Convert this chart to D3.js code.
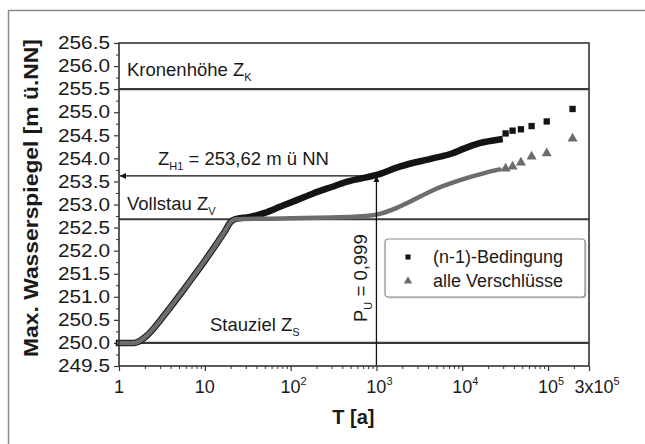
<!DOCTYPE html>
<html>
<head>
<meta charset="utf-8">
<script src="https://cdn.jsdelivr.net/npm/d3@7/dist/d3.min.js"></script>
<style>
body { margin: 0; background: #fff; }
text { font-family: "Liberation Sans", Arial, sans-serif; fill: #1a1a1a; }
</style>
</head>
<body>
<div id="chart"></div>
<script>
// axis ticks and labels
var yTicks = [249.5, 250.0, 250.5, 251.0, 251.5, 252.0, 252.5, 253.0, 253.5, 254.0, 254.5, 255.0, 255.5, 256.0, 256.5];
var xMajor = [1, 10, 100, 1000, 10000, 100000, 300000];
var xLabelBase = ['1', '10', '10', '10', '10', '10', '3x10'];
var xLabelSup = ['', '', '2', '3', '4', '5', '5'];

// reference levels [m ü NN]
var zK = 255.5, zV = 252.68, zS = 250.0;
var zH1 = 253.62, tPu = 1000;

// rising part, same for both series (T [a], level)
var riseT = [1, 1.5, 2, 2.5, 3, 4, 5.5, 7.3, 10, 13.5, 17, 20, 22.4];
var riseZ = [250.0, 250.0, 250.12, 250.3, 250.48, 250.78, 251.12, 251.43, 251.78, 252.13, 252.41, 252.62, 252.68];

// (n-1)-Bedingung
var n1T = [33.5, 50, 75, 120, 183, 300, 447, 1000, 1866, 4520, 7730, 10100, 15950, 27200];
var n1Z = [252.73, 252.82, 252.95, 253.10, 253.24, 253.38, 253.49, 253.64, 253.82, 254.0, 254.11, 254.20, 254.33, 254.41];
var n1TailT = [32000, 38600, 48300, 64300, 96500, 193000];
var n1TailZ = [254.54, 254.60, 254.63, 254.70, 254.80, 255.07];

// alle Verschlüsse
var allT = [100, 300, 600, 1000, 1700, 2450, 4560, 11200, 19000, 27200];
var allZ = [252.70, 252.72, 252.74, 252.78, 252.92, 253.06, 253.31, 253.57, 253.69, 253.76];
var allTailT = [32000, 38600, 48300, 64300, 96500, 193000];
var allTailZ = [253.78, 253.82, 253.91, 254.04, 254.11, 254.43];

var margin = {top: 43, right: 56, bottom: 78, left: 119},
    width = 645 - margin.left - margin.right,
    height = 444 - margin.top - margin.bottom;

var root = d3.select('#chart').append('svg')
  .attr('width', 645)
  .attr('height', 444);

// outer frame
root.append('rect')
  .attr('x', 8.5).attr('y', 10.5).attr('width', 700).attr('height', 500)
  .attr('fill', 'none').attr('stroke', '#8a8a8a').attr('stroke-width', 1.5);

var defs = root.append('defs');
defs.append('marker')
  .attr('id', 'arrow')
  .attr('viewBox', '0 0 10 10')
  .attr('refX', 10).attr('refY', 5)
  .attr('markerWidth', 7).attr('markerHeight', 6)
  .attr('markerUnits', 'userSpaceOnUse')
  .attr('orient', 'auto')
  .append('path').attr('d', 'M0,0L10,5L0,10Z').attr('fill', '#111');

var svg = root.append('g')
  .attr('transform', 'translate(' + margin.left + ',' + margin.top + ')');

var x = d3.scaleLog().domain([1, 300000]).range([0, width]),
    y = d3.scaleLinear().domain([249.5, 256.5]).range([height, 0]);

// y axis
var yMinor = yTicks.slice(0, -1).map(function(d) { return d + 0.25; });
svg.append('g')
  .call(d3.axisLeft(y).tickValues(yMinor).tickSize(3).tickFormat(''))
  .call(function(g) { g.select('.domain').remove(); g.selectAll('line').attr('stroke', '#333'); });
var yAx = svg.append('g')
  .call(d3.axisLeft(y).tickValues(yTicks).tickSize(5).tickPadding(4).tickFormat(d3.format('.1f')));
yAx.select('.domain').remove();
yAx.selectAll('line').attr('stroke', '#333').attr('stroke-width', 1.2);
yAx.selectAll('text')
  .attr('font-size', 18)
  .attr('fill', '#222')
  .attr('textLength', 52)
  .attr('lengthAdjust', 'spacingAndGlyphs')
  .attr('font-family', '"Liberation Sans", Arial, sans-serif');

// x axis
var xMinor = [];
xMajor.slice(0, 6).forEach(function(dec) {
  [2, 3, 4, 5, 6, 7, 8, 9].forEach(function(k) { if (dec * k < 300000) xMinor.push(dec * k); });
});
svg.append('g')
  .attr('transform', 'translate(0,' + height + ')')
  .call(d3.axisBottom(x).tickValues(xMinor).tickSize(3).tickFormat(''))
  .call(function(g) { g.select('.domain').remove(); g.selectAll('line').attr('stroke', '#333'); });
var xAx = svg.append('g')
  .attr('transform', 'translate(0,' + height + ')')
  .call(d3.axisBottom(x).tickValues(xMajor).tickSize(5).tickFormat(''));
xAx.select('.domain').remove();
xAx.selectAll('line').attr('stroke', '#333').attr('stroke-width', 1.2);

var xl = svg.append('g').selectAll('text')
  .data(xMajor)
  .enter().append('text')
  .attr('x', function(d, i) { return x(d) + (i === 6 ? 8 : (xLabelSup[i] ? 3 : 0)); })
  .attr('y', height + 27)
  .attr('text-anchor', 'middle')
  .attr('font-size', 18)
  .attr('fill', '#222');
xl.append('tspan').text(function(d, i) { return xLabelBase[i]; });
xl.append('tspan')
  .attr('font-size', 11)
  .attr('dy', -8)
  .text(function(d, i) { return xLabelSup[i]; });

// axis titles
svg.append('text')
  .attr('x', x(1000) - 23).attr('y', height + 58)
  .attr('text-anchor', 'middle')
  .attr('font-size', 20).attr('font-weight', 'bold')
  .text('T [a]');
svg.append('text')
  .attr('transform', 'translate(' + (38 - margin.left) + ',' + (198 - margin.top) + ') rotate(-90)')
  .attr('text-anchor', 'middle')
  .attr('font-size', 20).attr('font-weight', 'bold')
  .attr('textLength', 318).attr('lengthAdjust', 'spacingAndGlyphs')
  .text('Max. Wasserspiegel [m ü.NN]');

// level lines
[zK, zV, zS].forEach(function(z) {
  svg.append('line')
    .attr('x1', 0).attr('x2', width)
    .attr('y1', y(z)).attr('y2', y(z))
    .attr('stroke', '#3a3a3a').attr('stroke-width', 2.2);
});

// series bands
var line = d3.line()
  .x(function(d) { return x(d[0]); })
  .y(function(d) { return y(d[1]); })
  .curve(d3.curveMonotoneX);

var n1Data = d3.zip(riseT.concat(n1T), riseZ.concat(n1Z));
var allData = d3.zip(riseT.concat(allT), riseZ.concat(allZ));

svg.append('path')
  .datum(n1Data)
  .attr('d', line)
  .attr('fill', 'none').attr('stroke', '#141414')
  .attr('stroke-width', 6.5).attr('stroke-linejoin', 'round').attr('stroke-linecap', 'square');
svg.append('path')
  .datum(allData)
  .attr('d', line)
  .attr('fill', 'none').attr('stroke', '#6c6c6c')
  .attr('stroke-width', 4.5).attr('stroke-linejoin', 'round').attr('stroke-linecap', 'round');

var square = d3.symbol().type(d3.symbolSquare).size(40),
    triangle = d3.symbol().type(d3.symbolTriangle).size(44);

svg.append('g').selectAll('path')
  .data(d3.zip(n1TailT, n1TailZ))
  .enter().append('path')
  .attr('d', square)
  .attr('transform', function(d) { return 'translate(' + x(d[0]) + ',' + y(d[1]) + ')'; })
  .attr('fill', '#141414');
svg.append('g').selectAll('path')
  .data(d3.zip(allTailT, allTailZ))
  .enter().append('path')
  .attr('d', triangle)
  .attr('transform', function(d) { return 'translate(' + x(d[0]) + ',' + y(d[1]) + ')'; })
  .attr('fill', '#6c6c6c');

// arrows for Z_H1 and P_U
svg.append('line')
  .attr('x1', x(tPu)).attr('y1', y(zH1)).attr('x2', 1).attr('y2', y(zH1))
  .attr('stroke', '#111').attr('stroke-width', 1.3).attr('marker-end', 'url(#arrow)');
svg.append('line')
  .attr('x1', x(tPu)).attr('y1', height).attr('x2', x(tPu)).attr('y2', y(zH1))
  .attr('stroke', '#111').attr('stroke-width', 1.3).attr('marker-end', 'url(#arrow)');

// annotations
function label(px, py, main, sub, rest, rot) {
  var t = svg.append('text')
    .attr('font-size', 18.5)
    .attr('transform', 'translate(' + px + ',' + py + ')' + (rot ? ' rotate(-90)' : ''));
  t.append('tspan').text(main);
  t.append('tspan').attr('font-size', 11).attr('dy', 5).text(sub);
  if (rest) t.append('tspan').attr('dy', -5).text(rest);
  return t;
}
label(8, 76 - margin.top, 'Kronenhöhe Z', 'K');
label(39, 165 - margin.top, 'Z', 'H1', ' = 253,62 m ü NN');
label(8, 210 - margin.top, 'Vollstau Z', 'V');
label(91, 331 - margin.top, 'Stauziel Z', 'S');
label(248, 322 - margin.top, 'P', 'U', ' = 0,999', true);

// frame
svg.append('rect')
  .attr('width', width).attr('height', height)
  .attr('fill', 'none').attr('stroke', '#333').attr('stroke-width', 1.6);

// legend
var lg = svg.append('g').attr('transform', 'translate(' + (385 - margin.left) + ',' + (239 - margin.top) + ')');
lg.append('rect')
  .attr('x', 1.5).attr('y', 1.5).attr('width', 200).attr('height', 58).attr('rx', 3)
  .attr('fill', '#d0d0d0');
lg.append('rect')
  .attr('width', 200).attr('height', 58).attr('rx', 3)
  .attr('fill', '#fff').attr('stroke', '#8c8c8c').attr('stroke-width', 1.2);
lg.append('path').attr('d', d3.symbol().type(d3.symbolSquare).size(26))
  .attr('transform', 'translate(23,18)').attr('fill', '#141414');
lg.append('path').attr('d', d3.symbol().type(d3.symbolTriangle).size(30))
  .attr('transform', 'translate(23,42)').attr('fill', '#6c6c6c');
lg.append('text').attr('x', 48).attr('y', 24).attr('font-size', 18).text('(n-1)-Bedingung');
lg.append('text').attr('x', 48).attr('y', 48).attr('font-size', 18).text('alle Verschlüsse');
</script>
</body>
</html>
